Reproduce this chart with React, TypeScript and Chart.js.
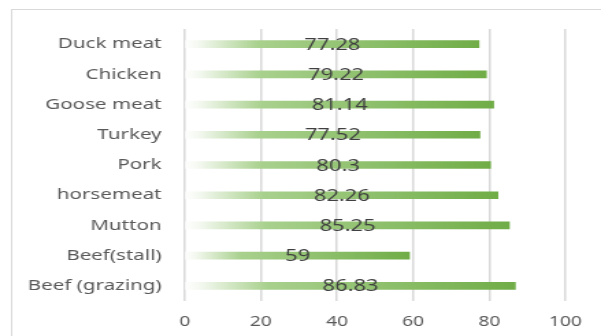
import React, { useEffect, useRef } from "react";
import { Chart, registerables } from "chart.js";

Chart.register(...registerables);

const categories = [
  "Duck meat",
  "Chicken",
  "Goose meat",
  "Turkey",
  "Pork",
  "horsemeat",
  "Mutton",
  "Beef(stall)",
  "Beef (grazing)",
];
const values = [77.28, 79.22, 81.14, 77.52, 80.3, 82.26, 85.25, 59, 86.83];
const xTickValues = [0, 20, 40, 60, 80, 100];
const valueLabels = ["77.28", "79.22", "81.14", "77.52", "80.3", "82.26", "85.25", "59", "86.83"];

const STRETCH = 1.37;
const OUT_W = 601;
const OUT_H = 336;
const IN_W = Math.round(OUT_W / STRETCH);
const FONT = "'Noto Sans', 'Open Sans', sans-serif";

export default function App() {
  const ref = useRef<HTMLCanvasElement | null>(null);

  useEffect(() => {
    document.body.style.margin = "0";
    const canvas = ref.current;
    if (!canvas) return;

    const framePlugin = {
      id: "frame",
      beforeDraw(chart: any) {
        const ctx = chart.ctx;
        ctx.save();
        ctx.fillStyle = "#ffffff";
        ctx.fillRect(0, 0, chart.width, chart.height);
        ctx.strokeStyle = "#d9d9d9";
        ctx.lineWidth = 1;
        ctx.strokeRect(8.5, 9.5, chart.width + 20, chart.height + 20);
        ctx.restore();
      },
    };

    const valuePlugin = {
      id: "values",
      afterDatasetsDraw(chart: any) {
        const ctx = chart.ctx;
        const meta = chart.getDatasetMeta(0);
        ctx.save();
        ctx.fillStyle = "#404040";
        ctx.font = `16px ${FONT}`;
        ctx.textAlign = "center";
        ctx.textBaseline = "middle";
        meta.data.forEach((el: any, i: number) => {
          const cx = (el.x + el.base) / 2;
          ctx.fillText(valueLabels[i], cx, el.y + 1);
        });
        ctx.restore();
      },
    };

    const chart = new Chart(canvas, {
      type: "bar",
      data: {
        labels: categories,
        datasets: [
          {
            data: values,
            barThickness: 7,
            borderWidth: 0,
            backgroundColor: (c: any) => {
              const ch = c.chart;
              const xs = ch.scales && ch.scales.x;
              if (!xs || c.type !== "data") return "#a9d18e";
              const x0 = xs.getPixelForValue(0);
              const x1 = xs.getPixelForValue(c.raw);
              if (!isFinite(x0) || !isFinite(x1) || x1 <= x0) return "#a9d18e";
              const g = ch.ctx.createLinearGradient(x0, 0, x1, 0);
              g.addColorStop(0, "rgba(255,255,255,1)");
              g.addColorStop(0.05, "#f3f8ef");
              g.addColorStop(0.25, "#a9d18e");
              g.addColorStop(1, "#70ad47");
              return g;
            },
          },
        ],
      },
      options: {
        indexAxis: "y",
        animation: false,
        responsive: false,
        devicePixelRatio: 1,
        layout: { padding: { left: 0, right: IN_W - 413, top: 29, bottom: 0 } },
        plugins: {
          legend: { display: false },
          tooltip: { enabled: false },
        },
        scales: {
          x: {
            min: 0,
            max: 100,
            afterBuildTicks: (scale: any) => {
              scale.ticks = xTickValues.map((v) => ({ value: v }));
            },
            afterFit: (scale: any) => {
              scale.height = OUT_H - 301;
            },
            grid: {
              color: "#d9d9d9",
              lineWidth: 1.5,
              drawTicks: false,
            },
            border: { display: false },
            ticks: {
              color: "#595959",
              font: { family: FONT, size: 14 },
              padding: 13,
            },
          },
          y: {
            afterFit: (scale: any) => {
              scale.width = 135;
            },
            grid: { display: false, drawTicks: false },
            border: { display: false },
            ticks: {
              color: "#595959",
              font: { family: FONT, size: 15 },
              padding: 17,
            },
          },
        },
      },
      plugins: [framePlugin, valuePlugin],
    } as any);

    return () => chart.destroy();
  }, []);

  return (
    <div style={{ position: "absolute", left: 0, top: 0 }}>
      <canvas
        ref={ref}
        width={IN_W}
        height={OUT_H}
        style={{ width: OUT_W + "px", height: OUT_H + "px", display: "block" }}
      />
    </div>
  );
}
